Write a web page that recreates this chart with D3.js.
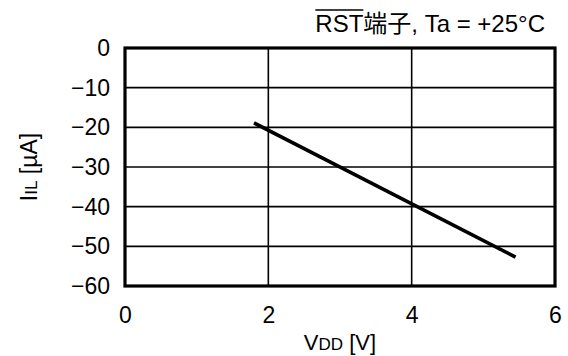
<!DOCTYPE html>
<html>
<head>
<meta charset="utf-8">
<script src="https://cdn.jsdelivr.net/npm/d3@7"></script>
<style>
  body { margin: 0; background: #fff; }
  text { font-family: "Liberation Sans", Arial, "Noto Sans CJK JP", sans-serif; fill: #000; }
</style>
</head>
<body>
<script>
// data
const vdd = [1.8, 5.45]
const iil = [-18.9, -52.7]
const xTicks = [0, 2, 4, 6]
const yTicks = [0, -10, -20, -30, -40, -50, -60]

const width = 568
const height = 356
const margin = { top: 48, right: 13, bottom: 70, left: 125 }
const w = width - margin.left - margin.right
const h = height - margin.top - margin.bottom

const svg = d3.select('body')
  .append('svg')
  .attr('width', width)
  .attr('height', height)

const chart = svg.append('g')
  .attr('transform', `translate(${margin.left}, ${margin.top})`)

const x = d3.scaleLinear().domain([0, 6]).range([0, w])
const y = d3.scaleLinear().domain([-60, 0]).range([h, 0])

// grid
chart.selectAll('line.vgrid')
  .data(xTicks.slice(1, -1))
  .enter().append('line')
  .attr('x1', d => x(d)).attr('x2', d => x(d))
  .attr('y1', 0).attr('y2', h)
  .attr('stroke', '#000').attr('stroke-width', 1.6)

chart.selectAll('line.hgrid')
  .data(yTicks.slice(1, -1))
  .enter().append('line')
  .attr('y1', d => y(d)).attr('y2', d => y(d))
  .attr('x1', 0).attr('x2', w)
  .attr('stroke', '#000').attr('stroke-width', 1.6)

// frame
chart.append('rect')
  .attr('width', w).attr('height', h)
  .attr('fill', 'none')
  .attr('stroke', '#000')
  .attr('stroke-width', 3.2)

// tick labels via d3 axis
const xAxis = d3.axisBottom(x).tickValues(xTicks).tickSize(0).tickPadding(21).tickFormat(d3.format('d'))
const yAxis = d3.axisLeft(y).tickValues(yTicks).tickSize(0).tickPadding(15).tickFormat(d => d < 0 ? '\u2212' + Math.abs(d) : d)

chart.append('g')
  .attr('transform', `translate(0, ${h})`)
  .call(xAxis)
  .call(g => g.select('.domain').remove())
  .selectAll('text')
  .attr('font-size', 23)
  .style('font-family', '"Liberation Sans", Arial, sans-serif')

chart.append('g')
  .call(yAxis)
  .call(g => g.select('.domain').remove())
  .selectAll('text')
  .attr('font-size', 23)
  .style('font-family', '"Liberation Sans", Arial, sans-serif')

// data line
const line = d3.line()
  .x(d => x(d[0]))
  .y(d => y(d[1]))

chart.append('path')
  .datum(d3.zip(vdd, iil))
  .attr('d', line)
  .attr('fill', 'none')
  .attr('stroke', '#000')
  .attr('stroke-width', 3.6)

// x label
const xl = svg.append('text')
  .attr('x', margin.left + w / 2)
  .attr('y', 350)
  .attr('text-anchor', 'middle')
  .attr('font-size', 22)
xl.append('tspan').text('V')
xl.append('tspan').attr('font-size', 17).text('DD')
xl.append('tspan').text(' [V]')

// y label
const yl = svg.append('text')
  .attr('transform', `translate(37, ${margin.top + h / 2}) rotate(-90)`)
  .attr('text-anchor', 'middle')
  .attr('font-size', 23)
yl.append('tspan').text('I')
yl.append('tspan').attr('font-size', 17).text('IL')
yl.append('tspan').text(' [\u00b5A]')

// title
const title = svg.append('text')
  .attr('x', 545)
  .attr('y', 32)
  .attr('text-anchor', 'end')
  .attr('font-size', 24)
  .text('RST端子, Ta = +25°C')

const node = title.node()
const start = node.getStartPositionOfChar(0)
const len = node.getSubStringLength(0, 3)
svg.append('line')
  .attr('x1', start.x).attr('x2', start.x + len)
  .attr('y1', 10).attr('y2', 10)
  .attr('stroke', '#000').attr('stroke-width', 1.3)
</script>
</body>
</html>
